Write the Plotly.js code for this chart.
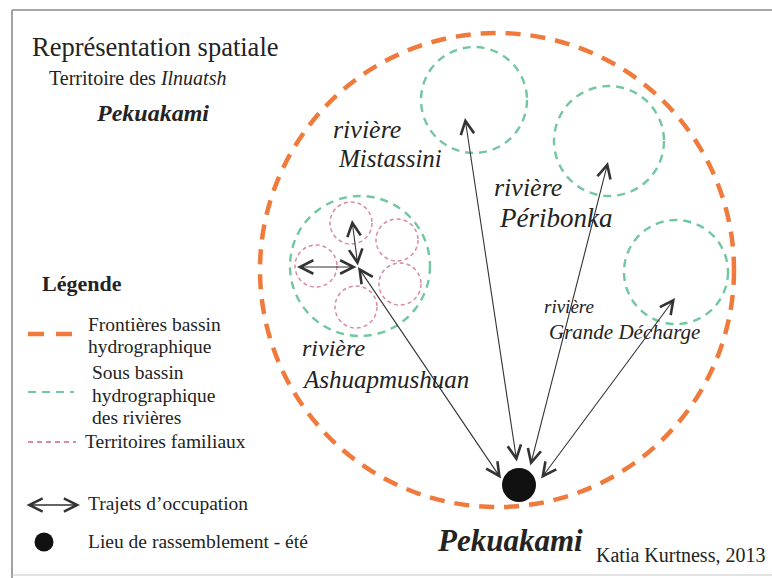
<!DOCTYPE html>
<html>
<head>
<meta charset="utf-8">
<script src="https://cdn.plot.ly/plotly-3.0.1.min.js"></script>
<style>
  html, body { margin: 0; padding: 0; background: #ffffff; }
  #chart { width: 772px; height: 578px; }
</style>
</head>
<body>
<div id="chart"></div>
<script>
// ---- Diagram data (map units) ----
const outerCx = [497];
const outerCy = [270];
const outerR = [237];

const basinNames = ['Mistassini', 'Péribonka', 'Grande Décharge', 'Ashuapmushuan'];
const basinCx = [474, 609, 676, 360];
const basinCy = [100, 141, 272, 266];
const basinR = [53, 55, 52, 70];

const familyCx = [351, 397, 316, 400, 356];
const familyCy = [223, 240, 266, 284, 307];
const familyR = [21, 21, 21, 21, 21];

const gatherName = ['Pekuakami'];
const gatherX = [519];
const gatherY = [485];

// occupation routes from the gathering place to each sub-basin
const routeFromX = [502, 517, 530, 540];
const routeFromY = [480, 463, 467, 480];
const routeToX = [358, 465, 608, 675];
const routeToY = [267, 118, 162, 298];

// routes from the Ashuapmushuan hub into family territories
const hubX = [358, 358];
const hubY = [267, 267];
const hubToX = [297, 352];
const hubToY = [267, 220];

// labels
const riverWord = ['rivière', 'rivière', 'rivière', 'rivière'];
const legendTitle = 'Légende';
const legendLabels = ['Frontières bassin', 'hydrographique', 'Sous bassin', 'hydrographique',
  'des rivières', 'Territoires familiaux', 'Trajets d\u2019occupation', 'Lieu de rassemblement - été'];
const titleLines = ['Représentation spatiale', 'Territoire des <i>Ilnuatsh</i>', '<b><i>Pekuakami</i></b>'];
const credit = 'Katia Kurtness, 2013';

// ---- styles ----
const SERIF = 'Liberation Serif, Times New Roman, serif';
const TXT = '#232323';
const ORANGE = '#ef7a3c';
const GREEN = '#72c6a0';
const PINK = '#d98ba2';

const shapes = [];
function circle(cx, cy, r, color, width, dash) {
  shapes.push({type: 'circle', xref: 'x', yref: 'y', x0: cx - r, x1: cx + r, y0: cy - r, y1: cy + r,
    line: {color: color, width: width, dash: dash}, fillcolor: 'rgba(0,0,0,0)'});
}
function seg(x0, y0, x1, y1, color, width, dash) {
  shapes.push({type: 'line', xref: 'x', yref: 'y', x0: x0, y0: y0, x1: x1, y1: y1,
    line: {color: color, width: width, dash: dash || 'solid'}});
}

// frame
seg(12, 10, 772, 10, '#8a8a8a', 1.6);
seg(12, 10, 12, 578, '#8a8a8a', 1.6);
seg(12, 575, 772, 575, '#c8c8c8', 1.2);

// outer basin
for (let i = 0; i < outerCx.length; i++) circle(outerCx[i], outerCy[i], outerR[i], ORANGE, 4.5, '15px,10px');
// sub-basins
for (let i = 0; i < basinCx.length; i++) circle(basinCx[i], basinCy[i], basinR[i], GREEN, 2.4, '8px,6px');
// family territories
for (let i = 0; i < familyCx.length; i++) circle(familyCx[i], familyCy[i], familyR[i], PINK, 1.5, '4px,3px');

// legend line samples
seg(28, 334, 74, 334, ORANGE, 4.5, '16px,12px');
seg(28, 392, 74, 392, GREEN, 2.2, '8px,6px');
seg(28, 442, 76, 442, PINK, 1.8, '5px,4px');

const annotations = [];
function txt(text, x, y, size, opts) {
  annotations.push(Object.assign({xref: 'x', yref: 'y', x: x, y: y, text: text, showarrow: false,
    xanchor: 'left', yanchor: 'middle', font: {family: SERIF, size: size, color: TXT}}, opts || {}));
}
function arrow(fx, fy, tx, ty, w, s) {
  annotations.push({xref: 'x', yref: 'y', axref: 'x', ayref: 'y', x: tx, y: ty, ax: fx, ay: fy,
    text: '', showarrow: true, arrowside: 'end+start', arrowhead: 5, startarrowhead: 5,
    arrowsize: s, startarrowsize: s, arrowwidth: w, arrowcolor: '#333333', standoff: 0, startstandoff: 0});
}

for (let i = 0; i < routeFromX.length; i++) arrow(routeFromX[i], routeFromY[i], routeToX[i], routeToY[i], 1.1, 2.4);
for (let i = 0; i < hubX.length; i++) arrow(hubX[i], hubY[i], hubToX[i], hubToY[i], 1.1, 2.4);
arrow(25, 505, 80, 505, 1.3, 2.0);

// titles
txt(titleLines[0], 30, 47, 26.5);
txt(titleLines[1], 47, 78, 20);
txt(titleLines[2], 94, 113, 24);

// legend
txt('<b>' + legendTitle + '</b>', 40, 283, 22);
const legendY = [324, 346, 372, 395, 417, 441, 503, 541];
const legendX = [86, 86, 90, 90, 90, 83, 86, 86];
for (let i = 0; i < legendLabels.length; i++) txt(legendLabels[i], legendX[i], legendY[i], 19.5);

// river labels
const riverSize = [26, 26, 19, 24];
const riverNameSize = [25, 27, 21, 25];
const riverWordX = [331, 492, 542, 300];
const riverWordY = [129, 187, 306, 348];
const riverNameX = [336, 497, 547, 300];
const riverNameY = [158, 218, 332, 379];
for (let i = 0; i < basinNames.length; i++) {
  txt('<i>' + riverWord[i] + '</i>', riverWordX[i], riverWordY[i], riverSize[i]);
  txt('<i>' + basinNames[i] + '</i>', riverNameX[i], riverNameY[i], riverNameSize[i]);
}

// gathering place
txt('<b><i>' + gatherName[0] + '</i></b>', 435, 540, 31);
txt(credit, 594, 555, 20);

const traces = [
  {type: 'scatter', mode: 'markers', x: gatherX, y: gatherY, name: gatherName[0],
    marker: {size: 34, color: '#111111', line: {width: 0}}, hoverinfo: 'skip'},
  {type: 'scatter', mode: 'markers', x: [44], y: [542], name: 'legend',
    marker: {size: 19, color: '#111111', line: {width: 0}}, hoverinfo: 'skip'}
];

const layout = {
  width: 772, height: 578,
  margin: {l: 0, r: 0, t: 0, b: 0, pad: 0},
  paper_bgcolor: '#ffffff', plot_bgcolor: '#ffffff',
  showlegend: false, hovermode: false,
  font: {family: SERIF, color: TXT},
  xaxis: {range: [0, 772], visible: false, fixedrange: true},
  yaxis: {range: [578, 0], visible: false, fixedrange: true},
  shapes: shapes,
  annotations: annotations
};

Plotly.newPlot('chart', traces, layout, {staticPlot: true, displayModeBar: false});
</script>
</body>
</html>
